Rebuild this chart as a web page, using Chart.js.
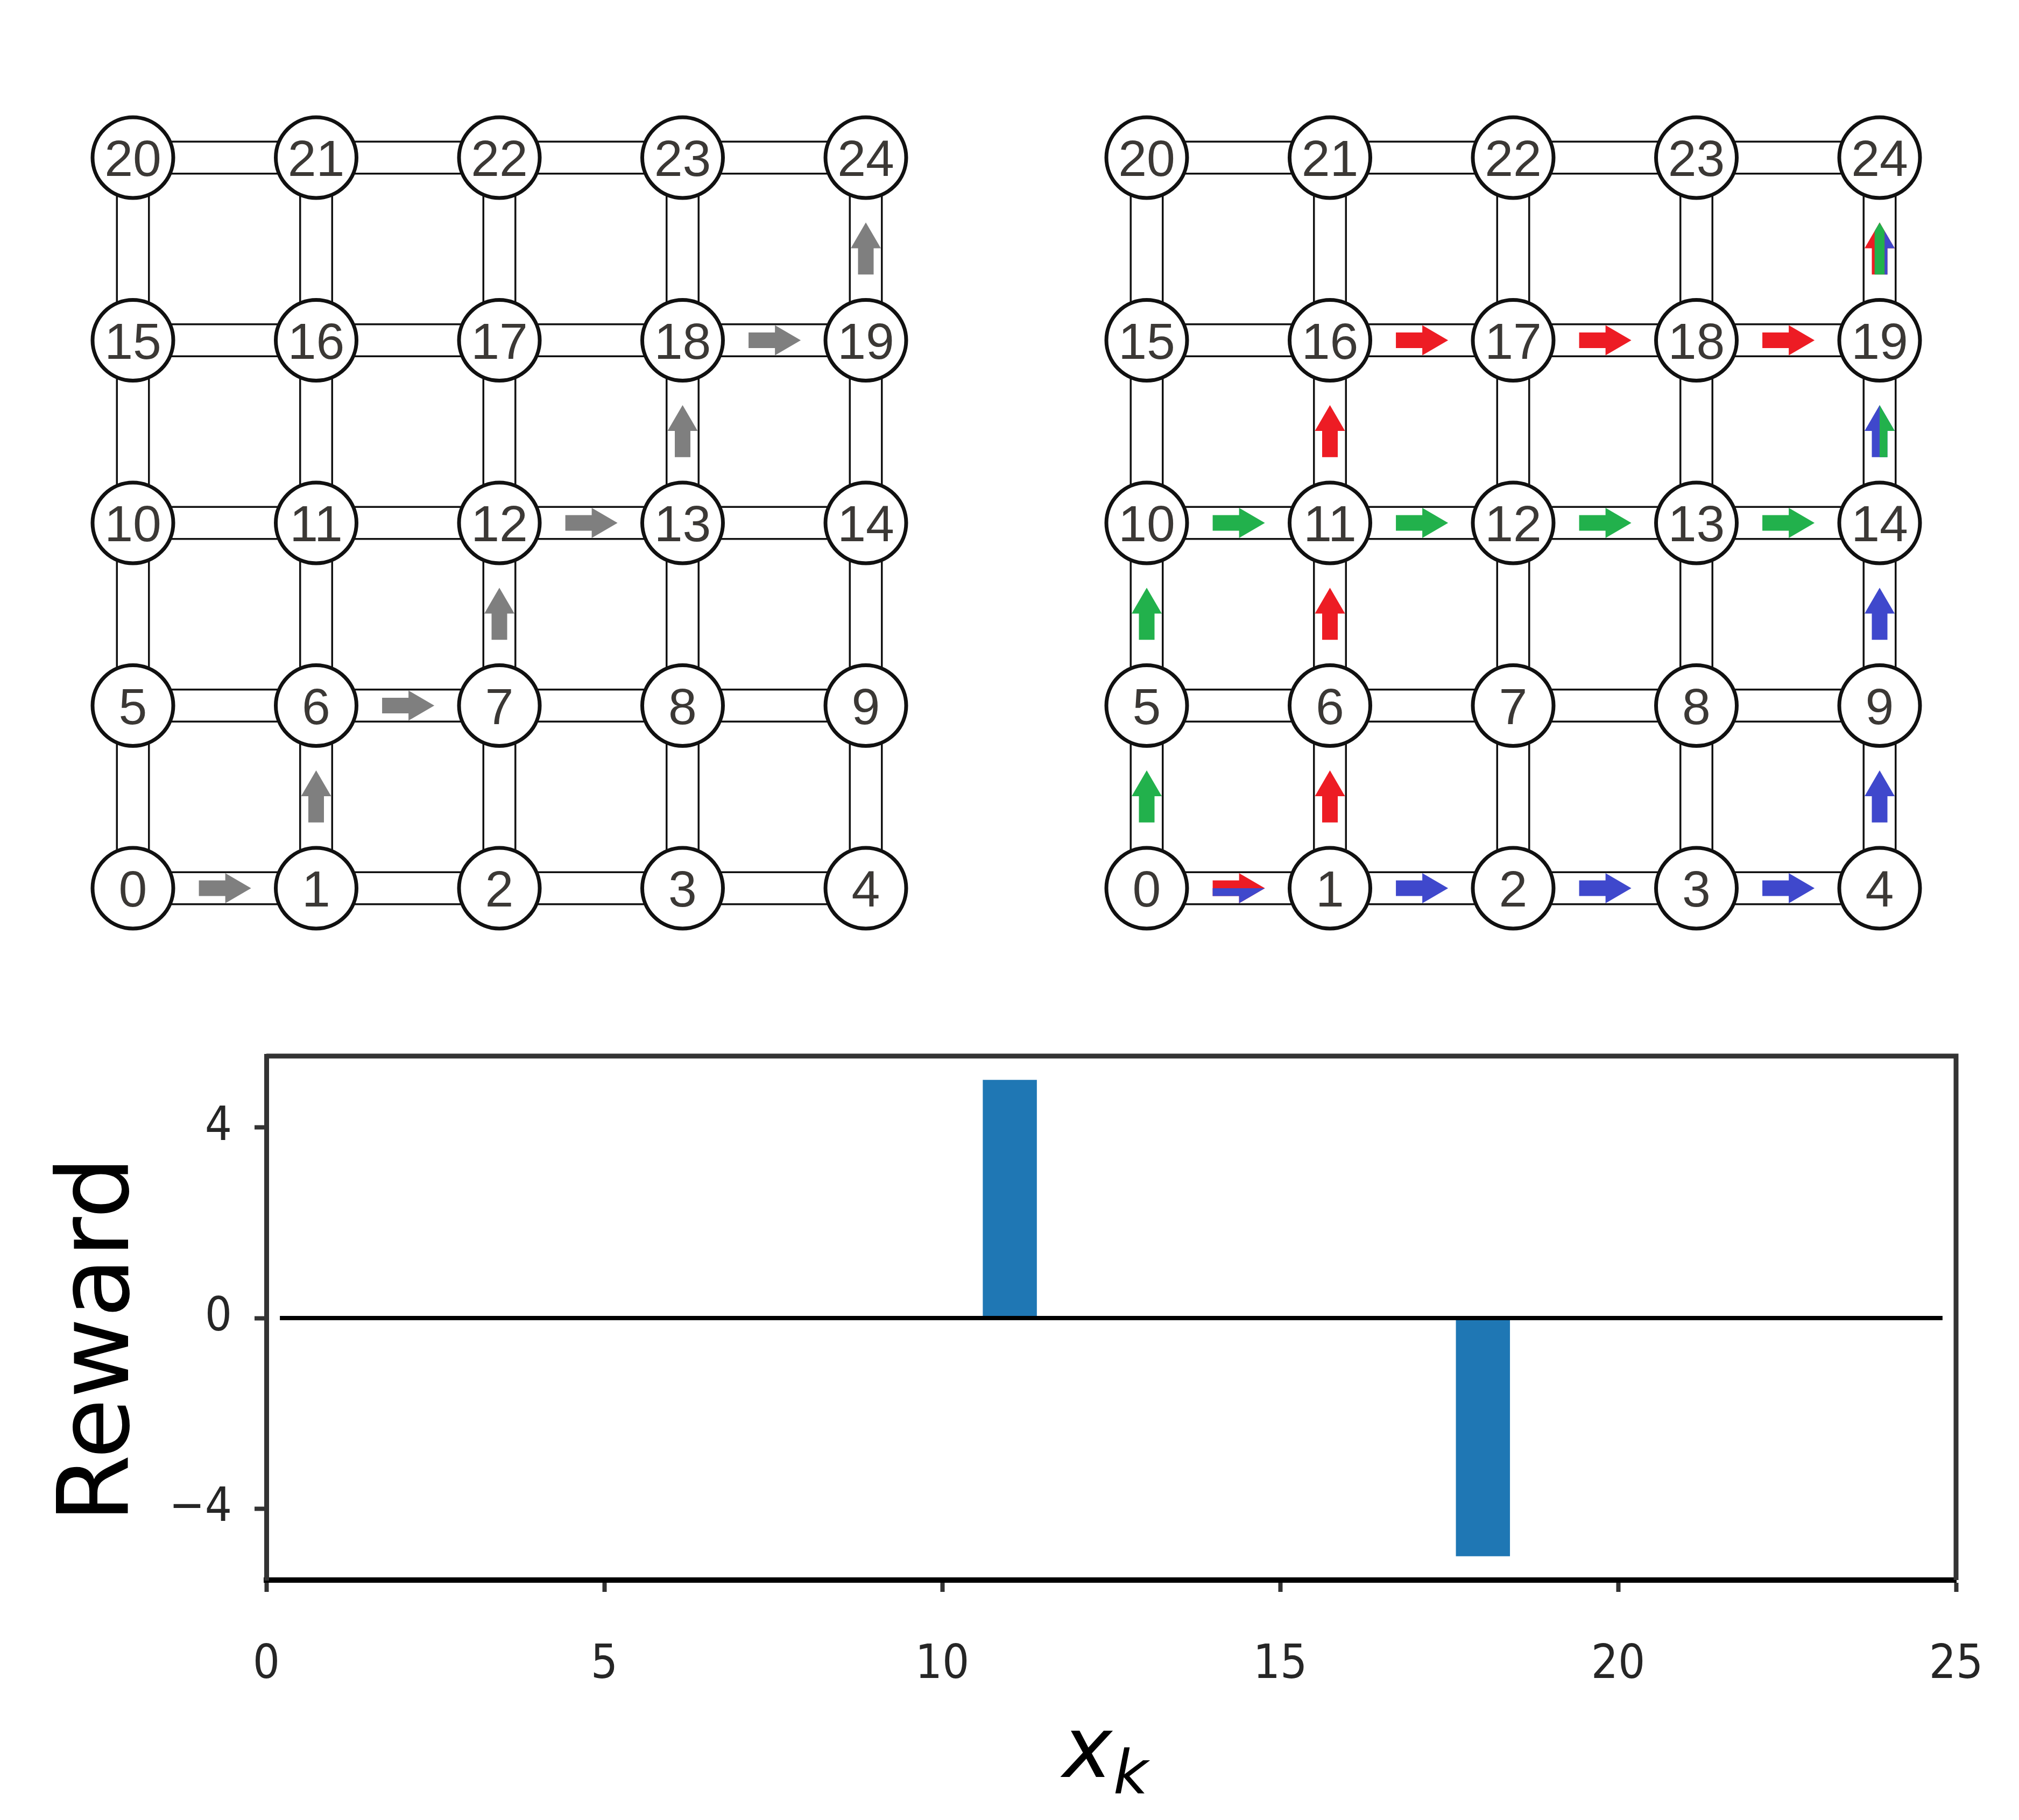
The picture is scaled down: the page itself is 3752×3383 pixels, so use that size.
<!DOCTYPE html>
<html>
<head>
<meta charset="utf-8">
<title>Grid paths and reward</title>
<script src="https://cdn.jsdelivr.net/npm/chart.js@4.4.1/dist/chart.umd.min.js"></script>
<style>
  html, body { margin: 0; padding: 0; background: #fff; }
  #figure { position: relative; width: 3752px; height: 3383px; }
  canvas { position: absolute; }
  #gridLeft { left: 0; top: 0; width: 1876px; height: 1880px; }
  #gridRight { left: 1876px; top: 0; width: 1876px; height: 1880px; }
  #rewardChart { left: 0; top: 1880px; width: 3752px; height: 1503px; }
</style>
</head>
<body>
<div id="figure">
  <canvas id="gridLeft" width="1876" height="1880"></canvas>
  <canvas id="gridRight" width="1876" height="1880"></canvas>
  <canvas id="rewardChart" width="3752" height="1503"></canvas>
</div>
<script>
/**
 * Two 5x5 grid graphs with the paths taken through them, and the reward
 * of each grid state as a bar chart underneath.
 */

// grid nodes, numbered row by row from the bottom left
const nodeIds = [
  0, 1, 2, 3, 4, 5, 6, 7, 8, 9, 10, 11, 12,
  13, 14, 15, 16, 17, 18, 19, 20, 21, 22, 23, 24,
]
const nodeCol = [
  0, 1, 2, 3, 4,
  0, 1, 2, 3, 4,
  0, 1, 2, 3, 4,
  0, 1, 2, 3, 4,
  0, 1, 2, 3, 4,
]
const nodeRow = [
  0, 0, 0, 0, 0,
  1, 1, 1, 1, 1,
  2, 2, 2, 2, 2,
  3, 3, 3, 3, 3,
  4, 4, 4, 4, 4,
]

// paths through the grid (left panel: one path, right panel: three)
const grayPath = [0, 1, 6, 7, 12, 13, 18, 19, 24]
const redPath = [0, 1, 6, 11, 16, 17, 18, 19, 24]
const greenPath = [0, 5, 10, 11, 12, 13, 14, 19, 24]
const bluePath = [0, 1, 2, 3, 4, 9, 14, 19, 24]

// reward per state
const states = [
  0, 1, 2, 3, 4, 5, 6, 7, 8, 9, 10, 11, 12,
  13, 14, 15, 16, 17, 18, 19, 20, 21, 22, 23, 24,
]
const rewards = [
  0, 0, 0, 0, 0, 0, 0, 0, 0, 0, 0, 5, 0,
  0, 0, 0, 0, 0, -5, 0, 0, 0, 0, 0, 0,
]
const zeroLineX = [0.2, 24.8]

const xTickValues = [0, 5, 10, 15, 20, 25]
const yTickValues = [-4, 0, 4]
const yTickLabels = ['\u22124', '0', '4']

const pathColors = {
  gray: '#7f7f7f',
  red: '#ed1c24',
  green: '#22b14c',
  blue: '#3f48cc',
}

// neighbouring nodes are joined by a pipe
const edges = []
nodeIds.forEach((a) => {
  nodeIds.forEach((b) => {
    if (b <= a) return
    const d = Math.abs(nodeCol[a] - nodeCol[b]) + Math.abs(nodeRow[a] - nodeRow[b])
    if (d === 1) edges.push([a, b])
  })
})

/**
 * Collects every step of the given paths, with the colours that use it.
 *
 * @param {Array<{color: string, path: number[]}>} paths - Paths to draw.
 * @param {Object<string, string[]>} stripeOrder - Colour order overrides.
 * @returns {Array<{from: number, to: number, colors: string[]}>} - Steps.
 */
function collectSteps(paths, stripeOrder) {
  const steps = new Map()
  paths.forEach(({ color, path }) => {
    for (let i = 0; i < path.length - 1; i++) {
      const key = `${path[i]}>${path[i + 1]}`
      if (!steps.has(key)) steps.set(key, { from: path[i], to: path[i + 1], colors: [] })
      steps.get(key).colors.push(color)
    }
  })
  Object.keys(stripeOrder).forEach((key) => {
    if (steps.has(key)) steps.get(key).colors = stripeOrder[key]
  })
  return [...steps.values()]
}

/**
 * Draws a block arrow between two node centres, split into stripes when
 * several paths share the step.
 */
function drawArrow(ctx, x1, y1, x2, y2, colors) {
  const len = Math.hypot(x2 - x1, y2 - y1)
  const dx = (x2 - x1) / len
  const dy = (y2 - y1) / len
  const px = -dy
  const py = dx
  const sx = x1 + dx * len * 0.36
  const sy = y1 + dy * len * 0.36
  const tx = x1 + dx * len * 0.645
  const ty = y1 + dy * len * 0.645
  const bx = tx - dx * 48
  const by = ty - dy * 48
  const sw = 14.5
  const hw = 28

  ctx.save()
  ctx.beginPath()
  ctx.moveTo(sx - px * sw, sy - py * sw)
  ctx.lineTo(bx - px * sw, by - py * sw)
  ctx.lineTo(bx - px * hw, by - py * hw)
  ctx.lineTo(tx, ty)
  ctx.lineTo(bx + px * hw, by + py * hw)
  ctx.lineTo(bx + px * sw, by + py * sw)
  ctx.lineTo(sx + px * sw, sy + py * sw)
  ctx.closePath()
  ctx.fillStyle = pathColors[colors[0]]
  ctx.fill()
  ctx.clip()

  // the other colours lie over the first one as bands across the arrow
  const band = (2 * hw) / colors.length
  for (let i = 1; i < colors.length; i++) {
    const o1 = -hw + i * band
    const o2 = o1 + band
    ctx.beginPath()
    ctx.moveTo(sx - dx * 5 + px * o1, sy - dy * 5 + py * o1)
    ctx.lineTo(tx + dx * 5 + px * o1, ty + dy * 5 + py * o1)
    ctx.lineTo(tx + dx * 5 + px * o2, ty + dy * 5 + py * o2)
    ctx.lineTo(sx - dx * 5 + px * o2, sy - dy * 5 + py * o2)
    ctx.closePath()
    ctx.fillStyle = pathColors[colors[i]]
    ctx.fill()
  }
  ctx.restore()
}

/**
 * Plugin that draws the pipes under the nodes, then the arrows and labels.
 */
function gridPlugin(steps) {
  return {
    id: 'gridPipes',
    beforeDatasetsDraw(chart) {
      const { ctx } = chart
      const { x, y } = chart.scales
      ctx.save()
      ctx.lineCap = 'butt'
      edges.forEach(([a, b]) => {
        const x1 = x.getPixelForValue(nodeCol[a])
        const y1 = y.getPixelForValue(nodeRow[a])
        const x2 = x.getPixelForValue(nodeCol[b])
        const y2 = y.getPixelForValue(nodeRow[b])
        ctx.beginPath()
        ctx.moveTo(x1, y1)
        ctx.lineTo(x2, y2)
        ctx.strokeStyle = '#111'
        ctx.lineWidth = 63
        ctx.stroke()
        ctx.strokeStyle = '#fff'
        ctx.lineWidth = 56
        ctx.stroke()
      })
      ctx.restore()
    },
    afterDatasetsDraw(chart) {
      const { ctx } = chart
      const { x, y } = chart.scales
      steps.forEach((s) => {
        drawArrow(
          ctx,
          x.getPixelForValue(nodeCol[s.from]),
          y.getPixelForValue(nodeRow[s.from]),
          x.getPixelForValue(nodeCol[s.to]),
          y.getPixelForValue(nodeRow[s.to]),
          s.colors
        )
      })

      ctx.save()
      ctx.font = '95px "Liberation Sans", Arial, sans-serif'
      ctx.fillStyle = '#3b3835'
      ctx.textAlign = 'center'
      ctx.textBaseline = 'alphabetic'
      nodeIds.forEach((i) => {
        ctx.fillText(
          String(i),
          x.getPixelForValue(nodeCol[i]),
          y.getPixelForValue(nodeRow[i]) + 34
        )
      })
      ctx.restore()
    },
  }
}

/**
 * Builds one grid graph in the given canvas.
 */
function makeGrid(canvasId, paths, padding, stripeOrder) {
  const nodes = nodeIds.map((i) => ({ x: nodeCol[i], y: nodeRow[i] }))
  return new Chart(document.getElementById(canvasId), {
    type: 'scatter',
    data: {
      datasets: [
        {
          data: nodes,
          pointRadius: 75,
          pointBorderWidth: 7,
          pointBackgroundColor: '#fff',
          pointBorderColor: '#111',
          clip: false,
        },
      ],
    },
    options: {
      responsive: false,
      animation: false,
      devicePixelRatio: 1,
      events: [],
      layout: { padding },
      plugins: { legend: { display: false }, tooltip: { enabled: false } },
      scales: {
        x: { type: 'linear', display: false, min: 0, max: 4 },
        y: { type: 'linear', display: false, min: 0, max: 4 },
      },
    },
    plugins: [gridPlugin(collectSteps(paths, stripeOrder))],
  })
}

makeGrid(
  'gridLeft',
  [{ color: 'gray', path: grayPath }],
  { left: 247, right: 267, top: 293, bottom: 229 },
  {}
)

makeGrid(
  'gridRight',
  [
    { color: 'red', path: redPath },
    { color: 'green', path: greenPath },
    { color: 'blue', path: bluePath },
  ],
  { left: 255, right: 259, top: 293, bottom: 229 },
  { '14>19': ['blue', 'green'] }
)

// top and right spines of the reward axes
const framePlugin = {
  id: 'frame',
  afterDraw(chart) {
    const { ctx, chartArea } = chart
    ctx.save()
    ctx.strokeStyle = '#333'
    ctx.lineWidth = 9
    ctx.beginPath()
    ctx.moveTo(chartArea.left, chartArea.top)
    ctx.lineTo(chartArea.right, chartArea.top)
    ctx.lineTo(chartArea.right, chartArea.bottom)
    ctx.stroke()
    ctx.restore()
  },
}

// axis labels: "Reward" on the left, italic x with subscript k below
const axisLabelPlugin = {
  id: 'axisLabels',
  afterDraw(chart) {
    const { ctx, chartArea } = chart
    const cx = (chartArea.left + chartArea.right) / 2
    const cy = (chartArea.top + chartArea.bottom) / 2
    ctx.save()
    ctx.fillStyle = '#000'
    ctx.textBaseline = 'alphabetic'

    ctx.save()
    ctx.translate(238, cy + 40)
    ctx.rotate(-Math.PI / 2)
    ctx.textAlign = 'center'
    ctx.font = '183px "DejaVu Sans"'
    ctx.fillText('Reward', 0, 0)
    ctx.restore()

    ctx.textAlign = 'left'
    ctx.font = 'italic 156px "DejaVu Sans"'
    const wx = ctx.measureText('x').width
    ctx.font = 'italic 112px "DejaVu Sans"'
    const wk = ctx.measureText('k').width
    const left = cx - (wx + wk) / 2 - 12
    ctx.font = 'italic 156px "DejaVu Sans"'
    ctx.fillText('x', left, chartArea.bottom + 366)
    ctx.font = 'italic 112px "DejaVu Sans"'
    ctx.fillText('k', left + wx + 2, chartArea.bottom + 396)
    ctx.restore()
  },
}

const tickFont = {
  size: 88,
  family: '"DejaVu Sans Condensed", "Liberation Sans Narrow", "DejaVu Sans"',
}

const tickGrid = {
  drawOnChartArea: false,
  drawTicks: true,
  offset: false,
  tickLength: 22,
  tickWidth: 8,
  tickColor: '#333',
  color: '#333',
}

/**
 * Fixes an axis box to a set size and drops the extra room Chart.js keeps
 * for labels at the ends.
 */
function fixAxis(prop, size) {
  return (scale) => {
    scale[prop] = size
    scale.paddingTop = 0
    scale.paddingBottom = 0
    scale.paddingLeft = 0
    scale.paddingRight = 0
  }
}

new Chart(document.getElementById('rewardChart'), {
  type: 'bar',
  data: {
    datasets: [
      {
        type: 'line',
        data: zeroLineX.map((v) => ({ x: v, y: 0 })),
        borderColor: '#000',
        borderWidth: 8,
        pointRadius: 0,
        order: 0,
      },
      {
        type: 'bar',
        data: states.map((s, i) => ({ x: s, y: rewards[i] })),
        backgroundColor: '#1f77b4',
        barPercentage: 0.8,
        categoryPercentage: 1,
        order: 1,
      },
    ],
  },
  options: {
    responsive: false,
    animation: false,
    devicePixelRatio: 1,
    events: [],
    layout: { padding: { top: 83, right: 117, left: 0, bottom: 0 } },
    plugins: { legend: { display: false }, tooltip: { enabled: false } },
    scales: {
      x: {
        type: 'linear',
        min: 0,
        max: 25,
        offset: false,
        afterBuildTicks: (scale) => {
          scale.ticks = xTickValues.map((v) => ({ value: v }))
        },
        afterFit: fixAxis('height', 446),
        grid: tickGrid,
        border: { display: true, color: '#000', width: 10 },
        ticks: {
          font: tickFont,
          color: '#262626',
          padding: 84,
          maxRotation: 0,
          callback: (v) => String(v),
        },
      },
      y: {
        type: 'linear',
        min: -5.5,
        max: 5.5,
        afterBuildTicks: (scale) => {
          scale.ticks = yTickValues.map((v) => ({ value: v }))
        },
        afterFit: fixAxis('width', 495),
        grid: tickGrid,
        border: { display: true, color: '#333', width: 9 },
        ticks: {
          font: tickFont,
          color: '#262626',
          padding: 42,
          callback: (v) => yTickLabels[yTickValues.indexOf(v)],
        },
      },
    },
  },
  plugins: [framePlugin, axisLabelPlugin],
})
</script>
</body>
</html>
